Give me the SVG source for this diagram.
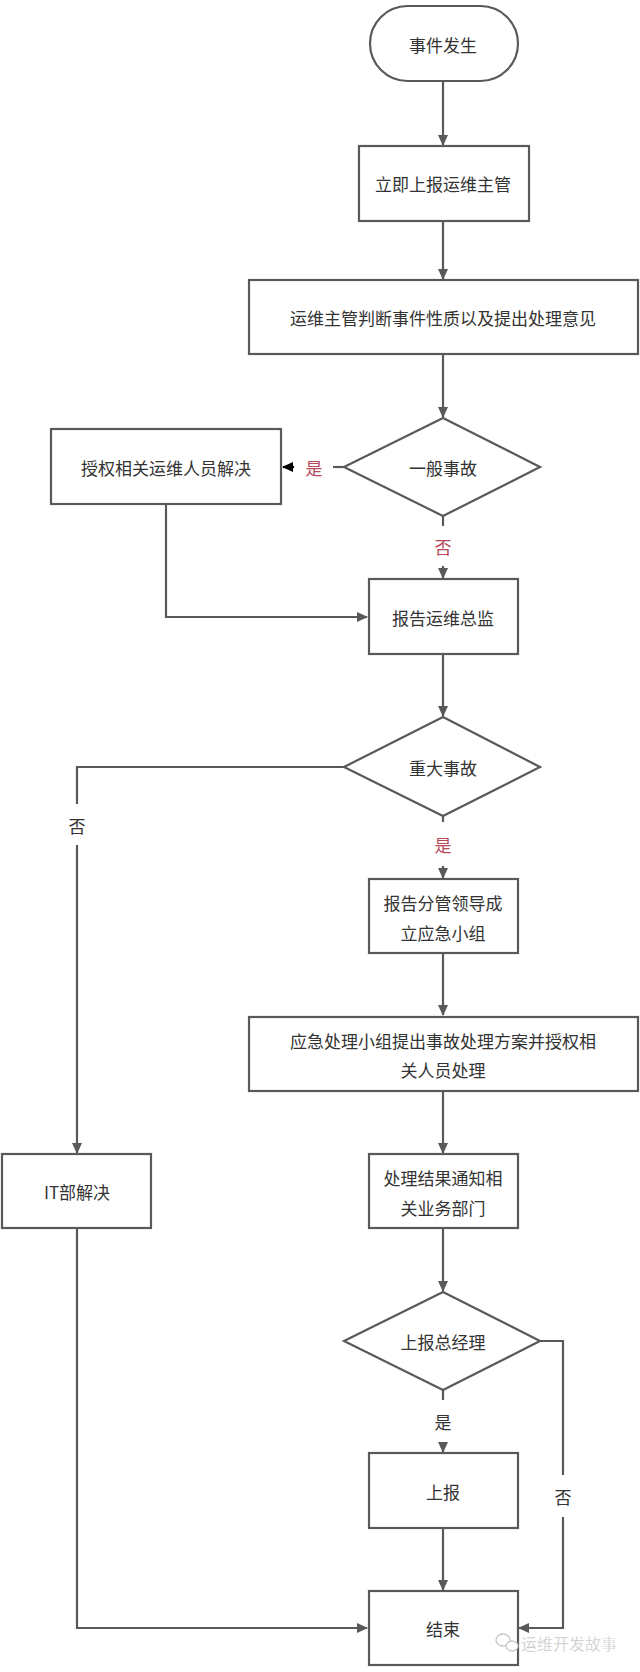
<svg xmlns="http://www.w3.org/2000/svg" width="640" height="1672" viewBox="0 0 640 1672">
<style>
.n{fill:#ffffff;stroke:#595959;stroke-width:2.2}
.t{font-family:"Noto Sans CJK SC","Liberation Sans",sans-serif;font-size:17px;fill:#333333;text-anchor:middle;dominant-baseline:central}
.c{fill:none;stroke:#595959;stroke-width:2.2}
.r{font-family:"Noto Sans CJK SC","Liberation Sans",sans-serif;font-size:17px;fill:#b5475a;text-anchor:middle;dominant-baseline:central}
.k{font-family:"Noto Sans CJK SC","Liberation Sans",sans-serif;font-size:17px;fill:#333333;text-anchor:middle;dominant-baseline:central}
</style>
<defs>
<marker id="a" markerWidth="12" markerHeight="12" refX="10" refY="6" orient="auto" markerUnits="userSpaceOnUse"><path d="M0,1 L11,6 L0,11 Z" fill="#595959"/></marker>
<marker id="b" markerWidth="12" markerHeight="12" refX="10" refY="6" orient="auto" markerUnits="userSpaceOnUse"><path d="M0,1 L11,6 L0,11 Z" fill="#000000"/></marker>
</defs>
<rect width="640" height="1672" fill="#ffffff"/>
<g id="connectors">
<path class="c" d="M443,81 V145" marker-end="url(#a)"/>
<path class="c" d="M443,221 V279" marker-end="url(#a)"/>
<path class="c" d="M443,354 V417" marker-end="url(#a)"/>
<path class="c" d="M344,467 H333"/>
<path d="M294,467 H283" stroke="#000" stroke-width="2.2" marker-end="url(#b)"/>
<path class="c" d="M443,516 V526"/>
<path class="c" d="M443,566 V578" marker-end="url(#a)"/>
<path class="c" d="M166,504 V617 H367" marker-end="url(#a)"/>
<path class="c" d="M443,654 V716" marker-end="url(#a)"/>
<path class="c" d="M344,767 H77 V804"/>
<path class="c" d="M77,845 V1153" marker-end="url(#a)"/>
<path class="c" d="M443,816 V822"/>
<path class="c" d="M443,866 V878" marker-end="url(#a)"/>
<path class="c" d="M443,953 V1015" marker-end="url(#a)"/>
<path class="c" d="M443,1091 V1153" marker-end="url(#a)"/>
<path class="c" d="M443,1228 V1291" marker-end="url(#a)"/>
<path class="c" d="M540,1341 H563 V1475"/>
<path class="c" d="M563,1517 V1628 H519" marker-end="url(#a)"/>
<path class="c" d="M443,1390 V1400"/>
<path class="c" d="M443,1442 V1452" marker-end="url(#a)"/>
<path class="c" d="M443,1528 V1590" marker-end="url(#a)"/>
<path class="c" d="M77,1228 V1628 H367" marker-end="url(#a)"/>
<text class="r" x="314" y="467">是</text>
<text class="r" x="443" y="546">否</text>
<text class="k" x="77" y="825">否</text>
<text class="r" x="443" y="844">是</text>
<text class="k" x="443" y="1421">是</text>
<text class="k" x="563" y="1496">否</text>
</g>
<g id="start"><rect class="n" x="370" y="6" width="148" height="75" rx="37.5"/><text class="t" x="443" y="44">事件发生</text></g>
<g id="report1"><rect class="n" x="359" y="146" width="170" height="75"/><text class="t" x="443" y="183">立即上报运维主管</text></g>
<g id="judge"><rect class="n" x="249" y="280" width="389" height="74"/><text class="t" x="443" y="317">运维主管判断事件性质以及提出处理意见</text></g>
<g id="d1"><polygon class="n" points="443,418 540,467 443,516 344,467"/><text class="t" x="443" y="467">一般事故</text></g>
<g id="auth"><rect class="n" x="51" y="429" width="230" height="75"/><text class="t" x="166" y="467">授权相关运维人员解决</text></g>
<g id="director"><rect class="n" x="369" y="579" width="149" height="75"/><text class="t" x="443" y="617">报告运维总监</text></g>
<g id="d2"><polygon class="n" points="443,717 540,767 443,816 344,767"/><text class="t" x="443" y="767">重大事故</text></g>
<g id="leader"><rect class="n" x="369" y="879" width="149" height="74"/><text class="t" x="443" y="902">报告分管领导成</text><text class="t" x="443" y="932">立应急小组</text></g>
<g id="plan"><rect class="n" x="249" y="1017" width="389" height="74"/><text class="t" x="443" y="1040">应急处理小组提出事故处理方案并授权相</text><text class="t" x="443" y="1069">关人员处理</text></g>
<g id="notify"><rect class="n" x="369" y="1154" width="149" height="74"/><text class="t" x="443" y="1177">处理结果通知相</text><text class="t" x="443" y="1207">关业务部门</text></g>
<g id="it"><rect class="n" x="2" y="1154" width="149" height="74"/><text class="t" x="77" y="1191">IT部解决</text></g>
<g id="d3"><polygon class="n" points="443,1292 540,1341 443,1390 344,1341"/><text class="t" x="443" y="1341">上报总经理</text></g>
<g id="up"><rect class="n" x="369" y="1453" width="149" height="75"/><text class="t" x="443" y="1491">上报</text></g>
<g id="end"><rect class="n" x="369" y="1591" width="149" height="74"/><text class="t" x="443" y="1628">结束</text></g>
<g id="watermark">
<ellipse cx="503" cy="1640" rx="7" ry="6" fill="none" stroke="#c8c8c8" stroke-width="1.3"/>
<ellipse cx="512" cy="1646" rx="6" ry="5" fill="#ffffff" stroke="#c8c8c8" stroke-width="1.3"/>
<text x="521" y="1643" font-family="Noto Sans CJK SC,sans-serif" font-size="16" fill="#c4c4c4" stroke="#ffffff" stroke-width="0.3" dominant-baseline="central">运维开发故事</text>
</g>
</svg>
